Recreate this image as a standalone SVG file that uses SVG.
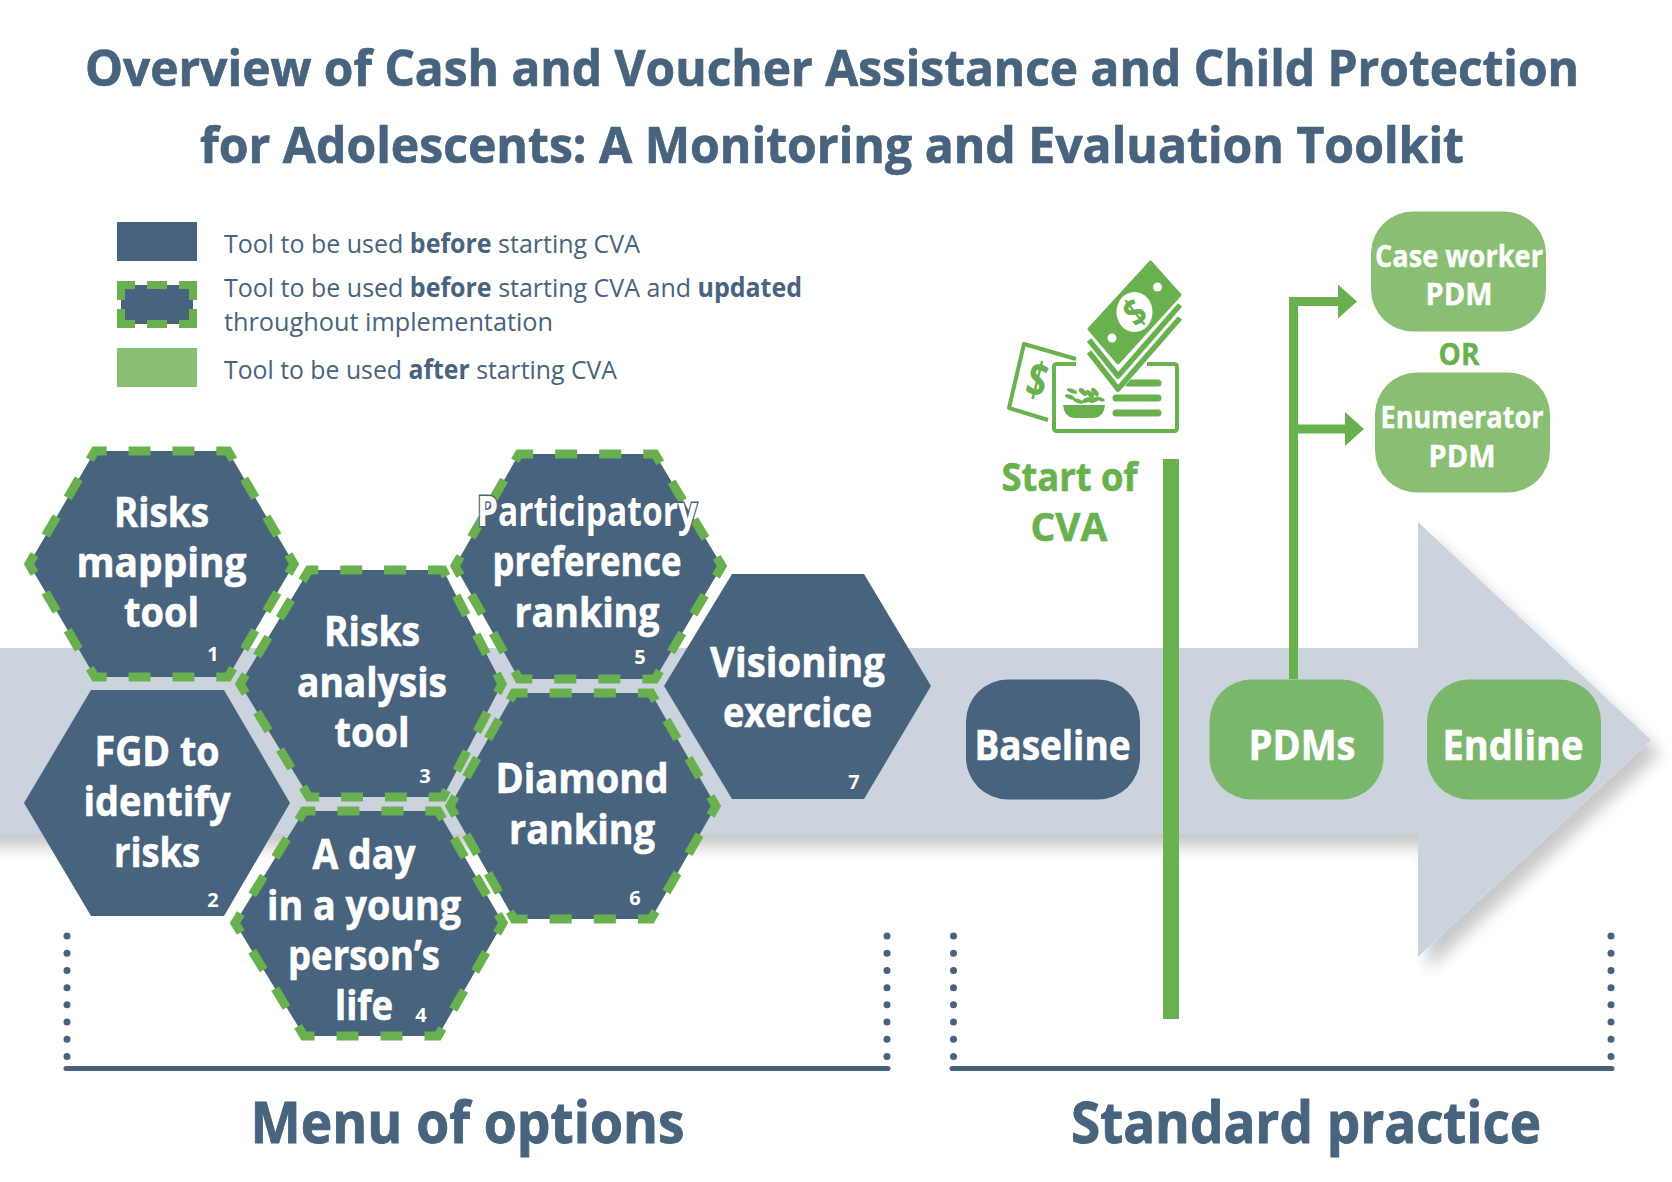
<svg xmlns="http://www.w3.org/2000/svg" width="1672" height="1182" viewBox="0 0 1672 1182">
<style>
text{font-family:"Open Sans","Noto Sans","Liberation Sans",sans-serif}
.title{font-size:50px;font-weight:700;fill:#47637e;stroke:#47637e;stroke-width:.7;text-anchor:middle}
.section{font-size:58px;font-weight:700;fill:#47637e;stroke:#47637e;stroke-width:.9;text-anchor:middle}
.legend{font-size:26px;fill:#47637e}
.legend tspan{font-weight:700}
.hx{font-size:41px;font-weight:700;fill:#fff;stroke:#fff;stroke-width:.6;text-anchor:middle}
.num{font-size:20px;font-weight:700;fill:#fff;text-anchor:middle}
.small{font-size:31px;font-weight:700;fill:#fff;stroke:#fff;stroke-width:.4;text-anchor:middle}
.cue{font-size:40px;font-weight:700;fill:#69b14e;stroke:#69b14e;stroke-width:.6;text-anchor:middle}
.green{fill:#69b14e}
.slate{fill:#47637e}
.soft{fill:#88bf72}
.softer{fill:#7ab76a}
.dash{stroke:#69b14e;stroke-width:9;stroke-dasharray:.5 .5;stroke-dashoffset:.25}
.dots{fill:none;stroke:#47637e;stroke-width:7;stroke-linecap:round;stroke-dasharray:.01 17.2}
.rule{fill:none;stroke:#47637e;stroke-width:5;stroke-linecap:round}
.ink{fill:none;stroke:#69b14e;stroke-width:4;stroke-linejoin:round}
.link{fill:none;stroke:#69b14e;stroke-width:9}
</style>
<defs>
<filter id="cast" filterUnits="userSpaceOnUse" x="-40" y="480" width="1712" height="560">
<feGaussianBlur in="SourceAlpha" stdDeviation="8"/>
<feOffset dx="10" dy="13"/>
<feComponentTransfer><feFuncA type="linear" slope=".22"/></feComponentTransfer>
<feMerge><feMergeNode/><feMergeNode in="SourceGraphic"/></feMerge>
</filter>
<marker id="head" markerUnits="userSpaceOnUse" markerWidth="20" markerHeight="36" refX="0" refY="17" orient="auto">
<path d="M0 0L19 17L0 34Z" fill="#69b14e"/>
</marker>
</defs>
<rect width="1672" height="1182" fill="#fff"/>

<g id="title">
<text class="title" x="832" y="86" textLength="1494" lengthAdjust="spacingAndGlyphs">Overview of Cash and Voucher Assistance and Child Protection</text>
<text class="title" x="832" y="163" textLength="1264" lengthAdjust="spacingAndGlyphs">for Adolescents: A Monitoring and Evaluation Toolkit</text>
</g>

<g id="legend">
<rect class="slate" x="117" y="222" width="80" height="39"/>
<text class="legend" x="224" y="253" textLength="416" lengthAdjust="spacingAndGlyphs">Tool to be used <tspan>before</tspan> starting CVA</text>
<rect class="slate" x="121" y="285" width="72" height="39"/>
<path d="M121 300V285H135M147 285H167M179 285H193V300M121 309V324H135M147 324H167M179 324H193V309" fill="none" stroke="#69b14e" stroke-width="8"/>
<text class="legend" x="224" y="297" textLength="578" lengthAdjust="spacingAndGlyphs">Tool to be used <tspan>before</tspan> starting CVA and <tspan>updated</tspan></text>
<text class="legend" x="224" y="331" textLength="329" lengthAdjust="spacingAndGlyphs">throughout implementation</text>
<rect class="soft" x="117" y="348" width="80" height="39"/>
<text class="legend" x="224" y="379" textLength="393" lengthAdjust="spacingAndGlyphs">Tool to be used <tspan>after</tspan> starting CVA</text>
</g>

<g id="timeline-arrow">
<path d="M-30 648H1418V522L1651 740L1418 957V834H-30Z" fill="#cbd3dc" filter="url(#cast)"/>
</g>

<g id="hex-1">
<path class="slate dash" pathLength="18" d="M29 564L95 451H228L294 564L228 677H95Z"/>
<text class="hx" x="161.5" y="527" textLength="95" lengthAdjust="spacingAndGlyphs">Risks</text>
<text class="hx" x="161.5" y="577" textLength="170" lengthAdjust="spacingAndGlyphs">mapping</text>
<text class="hx" x="161.5" y="627" textLength="75" lengthAdjust="spacingAndGlyphs">tool</text>
<text class="num" x="213" y="661">1</text>
</g>
<g id="hex-2">
<path class="slate" d="M24 803L91 690H224L290 803L224 916H91Z"/>
<text class="hx" x="157" y="766" textLength="125" lengthAdjust="spacingAndGlyphs">FGD to</text>
<text class="hx" x="157" y="816" textLength="147" lengthAdjust="spacingAndGlyphs">identify</text>
<text class="hx" x="157" y="867" textLength="86" lengthAdjust="spacingAndGlyphs">risks</text>
<text class="num" x="213" y="907">2</text>
</g>
<g id="hex-3">
<path class="slate dash" pathLength="18" d="M240 684L309 570H443L502 684L443 797H309Z"/>
<text class="hx" x="372" y="646" textLength="96" lengthAdjust="spacingAndGlyphs">Risks</text>
<text class="hx" x="372" y="697" textLength="150" lengthAdjust="spacingAndGlyphs">analysis</text>
<text class="hx" x="372" y="747" textLength="75" lengthAdjust="spacingAndGlyphs">tool</text>
<text class="num" x="425" y="783">3</text>
</g>
<g id="hex-4">
<path class="slate dash" pathLength="18" d="M235 923L304 811H438L503 923L438 1036H304Z"/>
<text class="hx" x="364" y="869" textLength="103" lengthAdjust="spacingAndGlyphs">A day</text>
<text class="hx" x="364" y="920" textLength="194" lengthAdjust="spacingAndGlyphs">in a young</text>
<text class="hx" x="364" y="970" textLength="152" lengthAdjust="spacingAndGlyphs">person’s</text>
<text class="hx" x="364" y="1020" textLength="58" lengthAdjust="spacingAndGlyphs">life</text>
<text class="num" x="421" y="1022">4</text>
</g>
<g id="hex-5">
<path class="slate dash" pathLength="18" d="M455 566L519 454H655L722 566L655 679H519Z"/>
<text class="hx" x="587" y="526" textLength="220" lengthAdjust="spacingAndGlyphs" style="stroke:#47637e;stroke-width:3;paint-order:stroke">Participatory</text>
<text class="hx" x="587" y="576" textLength="189" lengthAdjust="spacingAndGlyphs">preference</text>
<text class="hx" x="587" y="627" textLength="145" lengthAdjust="spacingAndGlyphs">ranking</text>
<text class="num" x="640" y="664">5</text>
</g>
<g id="hex-6">
<path class="slate dash" pathLength="18" d="M450 806L514 693H651L716 806L651 919H514Z"/>
<text class="hx" x="582" y="793" textLength="173" lengthAdjust="spacingAndGlyphs">Diamond</text>
<text class="hx" x="582" y="844" textLength="146" lengthAdjust="spacingAndGlyphs">ranking</text>
<text class="num" x="635" y="905">6</text>
</g>
<g id="hex-7">
<path class="slate" d="M664 686L732 574H864L931 686L864 799H732Z"/>
<text class="hx" x="797.5" y="677" textLength="175" lengthAdjust="spacingAndGlyphs">Visioning</text>
<text class="hx" x="797.5" y="727" textLength="149" lengthAdjust="spacingAndGlyphs">exercice</text>
<text class="num" x="854" y="789">7</text>
</g>

<g id="connectors">
<path class="link" d="M1293.5 679V301.5H1338" marker-end="url(#head)"/>
<path class="link" d="M1293.5 429H1345" marker-end="url(#head)"/>
</g>

<g id="baseline">
<rect class="slate" x="966" y="679.5" width="174" height="120" rx="42"/>
<text class="hx" x="1052.5" y="760" textLength="156" lengthAdjust="spacingAndGlyphs">Baseline</text>
</g>
<g id="pdms">
<rect class="softer" x="1209.5" y="679.5" width="174" height="120" rx="42"/>
<text class="hx" x="1302" y="760" textLength="107" lengthAdjust="spacingAndGlyphs">PDMs</text>
</g>
<g id="endline">
<rect class="softer" x="1427" y="679.5" width="174" height="120" rx="42"/>
<text class="hx" x="1513" y="760" textLength="141" lengthAdjust="spacingAndGlyphs">Endline</text>
</g>
<g id="case-worker">
<rect class="soft" x="1371" y="211.5" width="175" height="120" rx="42"/>
<text class="small" x="1459" y="267" textLength="168" lengthAdjust="spacingAndGlyphs">Case worker</text>
<text class="small" x="1459" y="305" textLength="67" lengthAdjust="spacingAndGlyphs">PDM</text>
</g>
<text class="small" x="1459" y="365" textLength="41" lengthAdjust="spacingAndGlyphs" style="fill:#69b14e;stroke:#69b14e">OR</text>
<g id="enumerator">
<rect class="soft" x="1375" y="372.5" width="175" height="120" rx="42"/>
<text class="small" x="1462" y="428" textLength="163" lengthAdjust="spacingAndGlyphs">Enumerator</text>
<text class="small" x="1462" y="467" textLength="67" lengthAdjust="spacingAndGlyphs">PDM</text>
</g>

<g id="start-of-cva">
<!-- voucher card behind the bills -->
<path class="ink" d="M1076 359L1024 344L1009 408L1048 420"/>
<text x="1037" y="397" transform="rotate(14 1037 381)" font-size="48" font-weight="700" fill="#69b14e" text-anchor="middle" textLength="20" lengthAdjust="spacingAndGlyphs">$</text>
<path class="ink" d="M1076 364H1057Q1054 364 1054 367V428Q1054 431 1057 431H1174Q1177 431 1177 428V367Q1177 364 1174 364H1147"/>
<path class="ink" stroke-linecap="round" style="stroke-width:7" d="M1128 383H1158M1116 398H1158M1116 413H1158"/>
<path class="green" d="M1063 405H1105Q1104 417 1094 418H1074Q1064 417 1063 405Z"/>
<g class="green">
<ellipse cx="1072" cy="391" rx="5.5" ry="2" transform="rotate(20 1072 391)"/>
<ellipse cx="1070" cy="397" rx="5.5" ry="2" transform="rotate(20 1070 397)"/>
<ellipse cx="1078" cy="401" rx="5.5" ry="2" transform="rotate(20 1078 401)"/>
<ellipse cx="1083" cy="392" rx="5" ry="2.5" transform="rotate(40 1083 392)"/>
<ellipse cx="1090" cy="394" rx="5" ry="2.5" transform="rotate(40 1090 394)"/>
<ellipse cx="1095" cy="392" rx="5" ry="2.5" transform="rotate(50 1095 392)"/>
<ellipse cx="1087" cy="400" rx="5" ry="2.5" transform="rotate(-20 1087 400)"/>
<ellipse cx="1094" cy="400" rx="5" ry="2.5" transform="rotate(-20 1094 400)"/>
<ellipse cx="1100" cy="399" rx="5" ry="1.8" transform="rotate(20 1100 399)"/>
</g>
<!-- stacked bills -->
<path fill="#fff" d="M1086 330L1118 394L1183 318V296Z"/>
<path class="ink" style="stroke-width:5.5" d="M1089 352L1118 389L1180 318"/>
<path class="ink" style="stroke-width:5.5" d="M1089 340L1118 376L1180 305"/>
<path class="green" stroke="#69b14e" stroke-width="3" stroke-linejoin="round" d="M1150.5 262L1180 295L1118 363L1089 329Z"/>
<ellipse cx="1134.5" cy="312" rx="18" ry="20" fill="#fff"/>
<circle cx="1157.5" cy="287" r="4.5" fill="#fff"/>
<circle cx="1112" cy="338" r="4.5" fill="#fff"/>
<text x="1134.5" y="326" transform="rotate(-38 1134.5 312)" font-size="38" font-weight="700" fill="#69b14e" text-anchor="middle" textLength="18" lengthAdjust="spacingAndGlyphs">$</text>
<text class="cue" x="1069.5" y="491" textLength="136" lengthAdjust="spacingAndGlyphs">Start of</text>
<text class="cue" x="1069" y="541" textLength="77" lengthAdjust="spacingAndGlyphs">CVA</text>
<rect class="green" x="1163" y="459" width="16" height="560"/>
</g>

<g id="menu-of-options">
<path class="dots" d="M67 936V1068.5M887 936V1068.5"/>
<path class="rule" d="M66 1068.5H888"/>
<text class="section" x="467.5" y="1143" textLength="434" lengthAdjust="spacingAndGlyphs">Menu of options</text>
</g>
<g id="standard-practice">
<path class="dots" d="M953.5 936V1068.5M1611 936V1068.5"/>
<path class="rule" d="M952 1068.5H1612"/>
<text class="section" x="1306" y="1143" textLength="470" lengthAdjust="spacingAndGlyphs">Standard practice</text>
</g>
</svg>
